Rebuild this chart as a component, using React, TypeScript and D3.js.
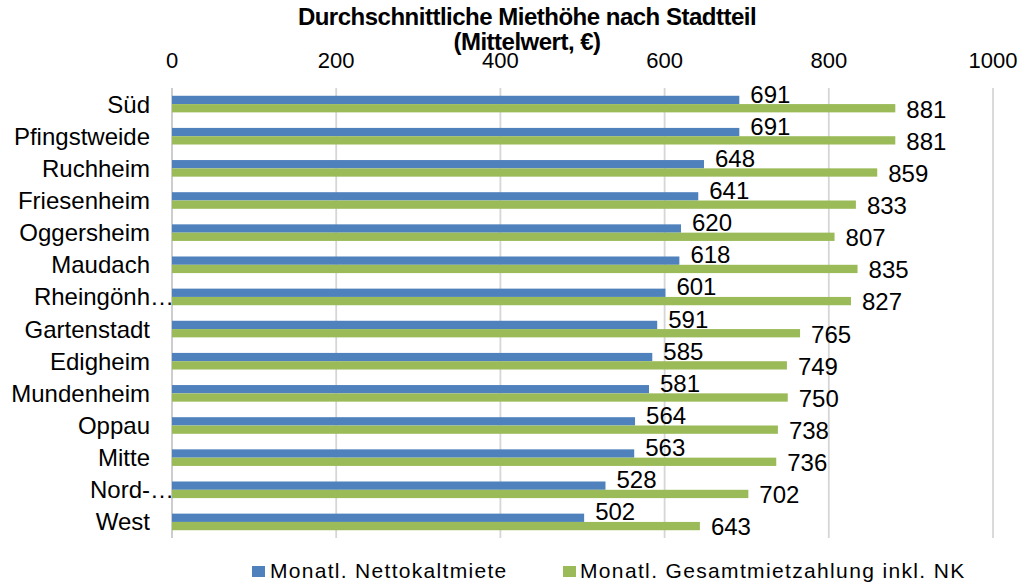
import React from "react";
import * as d3 from "d3";

const categories = ["Süd", "Pfingstweide", "Ruchheim", "Friesenheim", "Oggersheim", "Maudach", "Rheingönh…", "Gartenstadt", "Edigheim", "Mundenheim", "Oppau", "Mitte", "Nord-…", "West"];
const netRent = [691, 691, 648, 641, 620, 618, 601, 591, 585, 581, 564, 563, 528, 502];
const totalRent = [881, 881, 859, 833, 807, 835, 827, 765, 749, 750, 738, 736, 702, 643];
const ticks = [0, 200, 400, 600, 800, 1000];
const seriesNames = ["Monatl. Nettokaltmiete", "Monatl. Gesamtmietzahlung inkl. NK"];
const titleLines = ["Durchschnittliche Miethöhe nach Stadtteil", "(Mittelwert, €)"];

const BLUE = "#4F81BD";
const GREEN = "#9BBB59";
const FONT = "'Liberation Sans', Arial, sans-serif";

export default function App() {
  const W = 1022, H = 583;
  const x = d3.scaleLinear().domain([0, 1000]).range([172, 993]);
  const y = d3.scaleBand<string>().domain(categories).range([88, 538]);
  const barH = 8.3;

  return (
    <svg width={W} height={H} style={{ position: "absolute", left: 0, top: 0, background: "#fff" }} fontFamily={FONT}>
      {ticks.map((t) => (
        <line key={t} x1={x(t)} x2={x(t)} y1={88} y2={538}
          stroke={t === 0 ? "#C8C8C8" : "#D6D6D6"} strokeWidth={1.8} />
      ))}
      {ticks.map((t) => (
        <text key={"t" + t} x={x(t)} y={68} textAnchor="middle" fontSize={22} fill="#000">{t}</text>
      ))}
      <text x={527} y={25} textAnchor="middle" fontSize={24} fontWeight="bold" fill="#000" letterSpacing={-0.5}>{titleLines[0]}</text>
      <text x={527} y={50} textAnchor="middle" fontSize={24} fontWeight="bold" fill="#000" letterSpacing={-0.5}>{titleLines[1]}</text>
      {categories.map((c, i) => {
        const cy = (y(c) as number) + y.bandwidth() / 2;
        const trunc = c.endsWith("…");
        return (
          <g key={c}>
            <rect x={x(0)} y={cy - barH} width={x(netRent[i]) - x(0)} height={barH} fill={BLUE} />
            <rect x={x(0)} y={cy} width={x(totalRent[i]) - x(0)} height={barH} fill={GREEN} />
            <text x={x(netRent[i]) + 11} y={cy - 10} dominantBaseline="central" fontSize={24} fill="#000">{netRent[i]}</text>
            <text x={x(totalRent[i]) + 11} y={cy + 5} dominantBaseline="central" fontSize={24} fill="#000">{totalRent[i]}</text>
            <text x={trunc ? 174 : 150} y={cy} dominantBaseline="central" textAnchor="end" fontSize={24} fill="#000">{c}</text>
          </g>
        );
      })}
      <rect x={252} y={566} width={13} height={11} fill={BLUE} />
      <text x={270} y={578} fontSize={21} letterSpacing={1.3} fill="#000">{seriesNames[0]}</text>
      <rect x={563} y={566} width={13} height={11} fill={GREEN} />
      <text x={580} y={578} fontSize={21} letterSpacing={1.35} fill="#000">{seriesNames[1]}</text>
    </svg>
  );
}
